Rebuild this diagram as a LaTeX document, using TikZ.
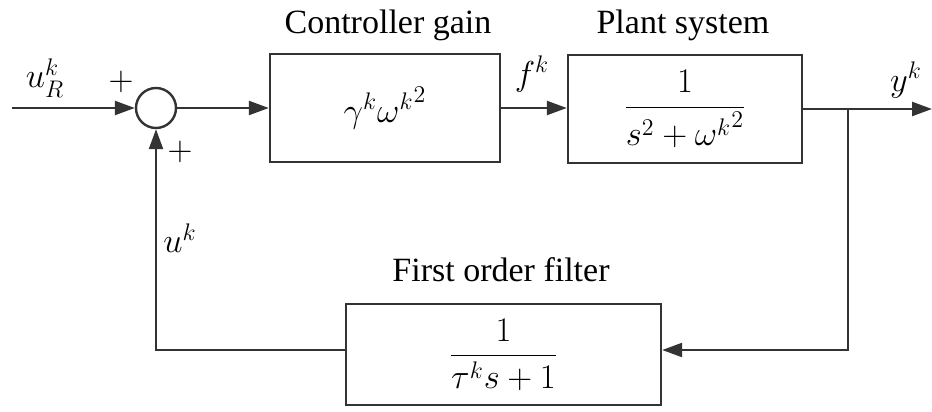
\documentclass[tikz,border=0pt]{standalone}
\usepackage{fontspec}
\setmainfont{Liberation Serif}
\usepackage{amsmath}
\usetikzlibrary{arrows.meta}
\begin{document}
\begin{tikzpicture}[x=0.5pt,y=-0.5pt,
  blk/.style={draw=black!80, line width=1.2pt, inner sep=0pt},
  wire/.style={draw=black!80, line width=1.2pt},
  arr/.style={wire, -{Triangle[length=10pt,width=7pt]}},
  lbl/.style={font=\fontsize{17}{20}\selectfont},
  mth/.style={font=\fontsize{18}{21}\selectfont}]
\useasboundingbox (0,0) rectangle (932,412);
% blocks
\node[blk, minimum width=115pt, minimum height=54pt] (ctrl) at (385,108) {};
\node[mth] at (ctrl.center) {$\gamma^{k}{\omega^{k}}^{2}$};
\node[blk, minimum width=117pt, minimum height=54pt] (plant) at (685,109) {};
\node[mth] at (plant.center) {$\dfrac{1}{s^{2}+{\omega^{k}}^{2}}$};
\node[blk, minimum width=157.5pt, minimum height=50.5pt] (filt) at (503.5,354.5) {};
\node[mth] at (filt.center) {$\dfrac{1}{\tau^{k}s+1}$};
\node[circle, draw=black!80, line width=1.2pt, minimum size=20pt, inner sep=0pt] (sum) at (156,108) {};
% titles
\node[lbl] (tc) at (388,25) {Controller gain};
\node[lbl] (tp) at (683,25) {Plant system};
\node[lbl] (tf) at (501,270) {First order filter};
% coordinates
\coordinate (in) at (12,108);
\coordinate (br) at (848,109);
\coordinate (out) at (932,109);
\coordinate (fb1) at (848,350);
\coordinate (fb2) at (156,350);
% wires
\draw[arr] (in) -- (sum.west);
\draw[arr] (sum.east) -- (ctrl.west);
\draw[arr] (ctrl.east |- 0,108) -- (plant.west |- 0,108);
\draw[arr] (plant.east |- br) -- (out);
\draw[arr] (br) -- (fb1) -- (filt.east |- fb1);
\draw[arr] (filt.west |- fb2) -- (fb2) -- (sum.south);
% signal labels
\node[mth] (ur) at (45,78) {$u_{R}^{k}$};
\node[mth] (p1) at (121,82) {$+$};
\node[mth] (p2) at (180,152) {$+$};
\node[mth] (fk) at (532,74) {$f^{k}$};
\node[mth] (yk) at (906,80) {$y^{k}$};
\node[mth] (uk) at (180,238) {$u^{k}$};
\end{tikzpicture}
\end{document}
